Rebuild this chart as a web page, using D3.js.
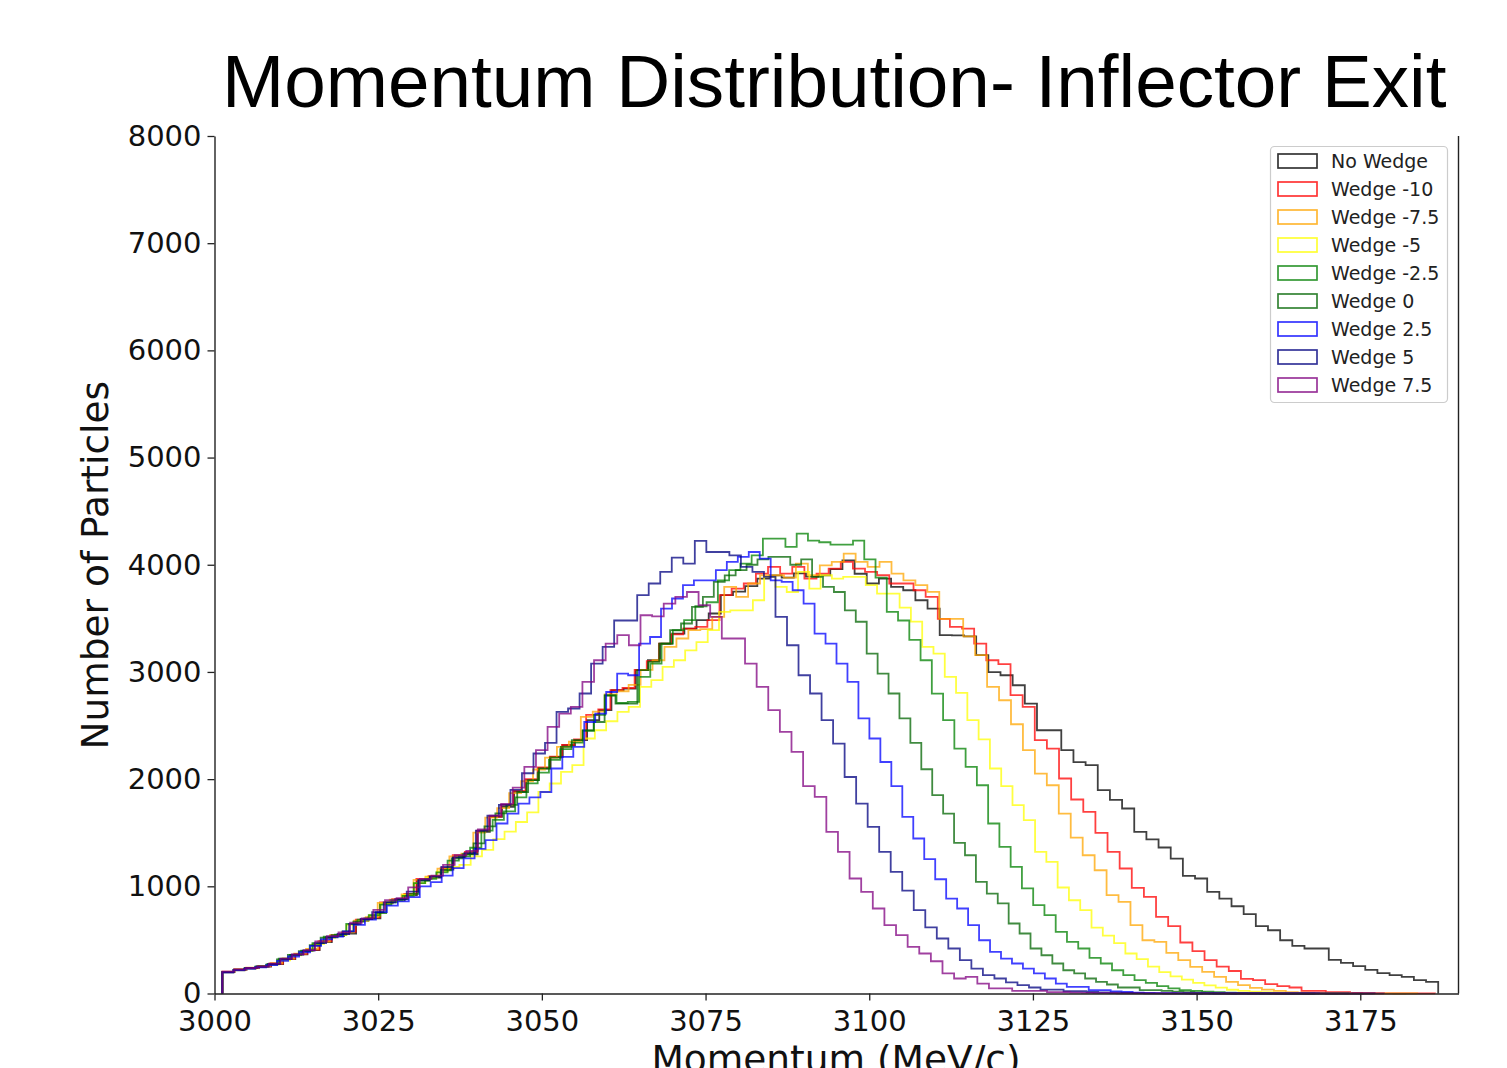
<!DOCTYPE html>
<html><head><meta charset="utf-8">
<script src="https://cdn.jsdelivr.net/npm/d3@7"></script>
<style>body{margin:0;background:#fff;overflow:hidden} svg{display:block}</style>
</head><body><svg id="chart" width="1507" height="1068"></svg>
<script>
// ---------------- data ----------------
const chartTitle = "Momentum Distribution- Inflector Exit";
const xLabel = "Momentum (MeV/c)";
const yLabel = "Number of Particles";
const xTicks = [3000, 3025, 3050, 3075, 3100, 3125, 3150, 3175];
const yTicks = [0, 1000, 2000, 3000, 4000, 5000, 6000, 7000, 8000];
const xDomain = [3000, 3190];
const yDomain = [0, 8000];

const seriesNames = ["No Wedge", "Wedge -10", "Wedge -7.5", "Wedge -5", "Wedge -2.5", "Wedge 0", "Wedge 2.5", "Wedge 5", "Wedge 7.5"];
const binStart = 3001.2; // MeV/c, lower edge of first bin
const binWidths = [1.857, 1.852, 1.825, 1.724, 1.720, 1.668, 1.675, 1.760, 1.774]; // MeV/c per bin

const countsNoWedge = [200,222,238,250,275,320,366,404,480,535,
 560,677,700,840,870,917,1057,1082,1157,1274,
 1299,1507,1647,1741,1881,1990,2099,2207,2316,2363,
 2550,2643,2829,2845,3016,3109,3265,3358,3405,3483,
 3545,3716,3750,3800,3870,3900,3880,3920,3890,3900,
 3960,4041,3916,3825,3871,3793,3762,3669,3591,3343,
 3341,3331,3157,2998,2969,2876,2705,2456,2456,2270,
 2158,2130,1897,1807,1726,1507,1437,1362,1259,1097,
 1073,948,886,814,740,628,590,497,444,420,
 420,314,285,255,221,190,171,155,124,109];

const countsWedgeM10 = [205,225,240,255,280,325,370,410,490,545,
 575,690,710,850,880,930,1070,1095,1170,1290,
 1320,1520,1650,1760,1890,2000,2110,2210,2320,2370,
 2600,2650,2830,2850,3020,3100,3265,3350,3405,3420,
 3483,3716,3778,3825,3918,3980,3918,3980,3871,3918,
 3964,4026,3964,3933,3902,3825,3825,3762,3700,3495,
 3420,3405,3265,3109,3072,2783,2674,2363,2285,2006,
 1810,1694,1498,1321,1166,985,901,715,628,476,
 395,311,250,210,137,124,87,68,56,24,
 24,12,12,5,4,2,2,1,1,1];

const countsWedgeM7p5 = [200,225,242,258,282,325,372,415,485,545,
 570,680,712,845,875,925,1060,1090,1165,1280,
 1305,1500,1640,1730,1870,1980,2090,2200,2300,2350,
 2580,2630,2790,2820,2880,3020,3109,3233,3312,3390,
 3400,3514,3793,3700,3825,3900,3902,3880,4011,3902,
 3995,4026,4104,4026,3980,4026,3918,3855,3809,3747,
 3495,3495,3331,3157,2860,2736,2512,2270,2052,1943,
 1679,1455,1290,1150,917,855,637,497,481,379,
 311,249,202,155,109,78,52,37,24,12,
 9,6,4,3,2,2,1,1,0,1];

const countsWedgeM5 = [195,215,230,248,270,310,355,395,460,520,
 545,640,680,730,840,870,920,1030,1080,1140,
 1180,1200,1280,1340,1440,1510,1600,1690,1880,1959,
 2067,2130,2379,2456,2540,2627,2674,2860,2923,3047,
 3109,3202,3279,3390,3560,3575,3575,3669,3886,3793,
 3746,3933,3778,3902,3871,3886,3886,3809,3731,3731,
 3600,3470,3233,3171,2954,2805,2550,2370,2099,1934,
 1757,1617,1321,1228,989,870,777,615,540,470,
 373,320,250,200,160,130,100,75,55,35,
 25,18,12,8,5,4,2,1,1,1];

const countsWedgeM2p5 = [200,220,238,252,276,325,360,400,470,530,
 550,650,690,730,830,870,910,1030,1070,1130,
 1240,1280,1360,1520,1620,1700,1830,1960,2060,2180,
 2280,2340,2450,2600,2780,2710,2720,2954,3078,3265,
 3389,3483,3613,3650,3855,3949,4011,4088,4244,4244,
 4166,4291,4226,4210,4188,4188,4226,4050,3880,3560,
 3480,3300,3109,2798,2550,2285,2114,1943,1586,1368,
 1182,980,824,731,575,482,420,333,280,217,
 171,124,100,68,47,31,24,18,12,8,
 5,4,3,2,1,1,0,1,0,1];

const countsWedge0 = [200,220,235,250,270,318,360,395,450,520,
 545,580,670,700,750,850,880,930,1050,1090,
 1150,1260,1300,1400,1560,1680,1760,1880,1990,2100,
 2200,2300,2363,2456,2533,2782,2705,2705,3016,3094,
 3265,3390,3452,3607,3700,3840,3900,3950,4000,4050,
 4073,4073,4000,4050,3886,3793,3746,3575,3468,3171,
 2985,2799,2566,2338,2092,1851,1679,1405,1290,1041,
 932,840,653,560,420,357,280,217,187,140,
 109,84,56,56,31,31,25,18,12,8,
 5,3,2,1,1,0,1,0,0,1];

const countsWedgeP2p5 = [195,215,230,245,265,305,345,385,445,505,
 530,580,640,690,760,820,860,900,1000,1040,
 1100,1170,1260,1350,1430,1586,1679,1772,1830,1880,
 2099,2207,2300,2533,2612,2813,2985,2969,3265,3326,
 3591,3685,3809,3855,3855,3949,4026,4073,4119,4057,
 3855,3840,3762,3638,3358,3265,3078,2907,2566,2379,
 2160,1934,1648,1446,1253,1066,886,793,637,497,
 388,326,280,233,187,140,93,62,62,31,
 31,20,14,9,6,4,3,2,1,1,
 0,1,0,0,0,1,0,0,0,1];

const countsWedgeP5 = [200,222,238,250,275,320,362,400,470,525,
 555,650,695,760,850,880,950,1060,1090,1180,
 1270,1310,1520,1660,1760,1900,2055,2239,2338,2627,
 2659,2799,3078,3233,3480,3480,3716,3825,3933,4067,
 4011,4222,4119,4119,4088,3980,3933,3886,3514,3249,
 2969,2799,2550,2332,2020,1772,1554,1321,1134,960,
 777,616,513,420,311,233,171,140,103,78,
 56,37,37,21,21,14,10,7,5,3,
 2,2,1,1,0,1,0,0,1,0,
 0,0,0,1,0,0,0,0,0,1];

const countsWedgeP7p5 = [205,222,238,252,278,325,365,405,485,535,
 570,660,700,780,870,890,990,1070,1100,1200,
 1290,1330,1530,1660,1770,1920,2114,2270,2487,2612,
 2674,2907,3109,3265,3343,3249,3529,3519,3638,3700,
 3746,3622,3514,3312,3312,3078,2860,2643,2441,2254,
 1934,1834,1507,1321,1073,948,793,637,544,435,
 373,301,187,140,155,93,47,47,24,24,
 24,12,12,8,6,4,3,2,2,1,
 1,0,1,0,0,1,0,0,0,1,
 0,0,0,0,1,0,0,0,0,1];

const seriesCounts = [countsNoWedge, countsWedgeM10, countsWedgeM7p5, countsWedgeM5, countsWedgeM2p5,
                      countsWedge0, countsWedgeP2p5, countsWedgeP5, countsWedgeP7p5];

// ---------------- style ----------------
const seriesColors = ["#000000", "#ff0000", "#ffa500", "#ffff00", "#008000", "#006400", "#0000ff", "#000080", "#800080"];
const tickFont = "'DejaVu Sans', sans-serif";

// ---------------- drawing ----------------
const svg = d3.select("#chart");
svg.append("rect").attr("width", 1507).attr("height", 1068).attr("fill", "#fff");

const x = d3.scaleLinear().domain(xDomain).range([214.5, 1458.5]);
const y = d3.scaleLinear().domain(yDomain).range([993.5, 136]);

// histogram step outlines
const line = d3.line().x(d => x(d[0])).y(d => y(d[1]));
const plot = svg.append("g");
seriesCounts.forEach((counts, si) => {
  const w = binWidths[si];
  const pts = [[binStart, 0]];
  counts.forEach((c, i) => {
    pts.push([binStart + i * w, c]);
    pts.push([binStart + (i + 1) * w, c]);
  });
  pts.push([binStart + counts.length * w, 0]);
  plot.append("path")
    .attr("d", line(pts))
    .attr("fill", "none")
    .attr("stroke", seriesColors[si])
    .attr("stroke-opacity", 0.75)
    .attr("stroke-width", 1.8)
    .attr("stroke-linejoin", "miter");
});

// axes
const axisColor = "#222";
const xAxis = svg.append("g").attr("transform", `translate(0,${y(0)})`)
  .call(d3.axisBottom(x).tickValues(xTicks).tickFormat(d3.format("d")).tickSize(7).tickSizeOuter(0).tickPadding(10));
const yAxis = svg.append("g").attr("transform", `translate(${x(3000)},0)`)
  .call(d3.axisLeft(y).tickValues(yTicks).tickFormat(d3.format("d")).tickSize(7).tickSizeOuter(0).tickPadding(6));
[xAxis, yAxis].forEach(a => {
  a.selectAll("path.domain").attr("stroke", axisColor).attr("stroke-width", 1.4);
  a.selectAll(".tick line").attr("stroke", axisColor).attr("stroke-width", 1.3);
  a.selectAll(".tick text").attr("fill", "#111").style("font-family", tickFont).style("font-size", "29px");
});
// right spine
svg.append("line")
  .attr("x1", x(xDomain[1])).attr("x2", x(xDomain[1]))
  .attr("y1", y(yDomain[1])).attr("y2", y(0))
  .attr("stroke", axisColor).attr("stroke-width", 1.4);

// axis labels
svg.append("text").text(yLabel)
  .attr("transform", `translate(108,${(y(0) + y(yDomain[1])) / 2 + 0.5}) rotate(-90)`)
  .attr("text-anchor", "middle")
  .style("font-family", tickFont).style("font-size", "37.5px").attr("fill", "#111");
svg.append("text").text(xLabel)
  .attr("x", 836).attr("y", 1072)
  .attr("text-anchor", "middle")
  .style("font-family", tickFont).style("font-size", "37.5px").attr("fill", "#111");

// title
svg.append("text").text(chartTitle)
  .attr("x", 222).attr("y", 107)
  .style("font-family", "'Liberation Sans', Arial, sans-serif").style("font-size", "74.7px").attr("fill", "#000");

// legend
const lg = svg.append("g");
lg.append("rect").attr("x", 1270.5).attr("y", 146.5).attr("width", 177).attr("height", 256).attr("rx", 4)
  .attr("fill", "#fff").attr("fill-opacity", 0.85).attr("stroke", "#cccccc").attr("stroke-width", 1.2);
seriesNames.forEach((name, i) => {
  const cy = 161 + 28 * i;
  lg.append("rect").attr("x", 1278).attr("y", cy - 7).attr("width", 39).attr("height", 14)
    .attr("fill", "none").attr("stroke", seriesColors[i]).attr("stroke-opacity", 0.8).attr("stroke-width", 1.7);
  lg.append("text").text(name).attr("x", 1331).attr("y", cy).attr("dy", "0.36em")
    .style("font-family", tickFont).style("font-size", "19px").attr("fill", "#222");
});
</script>
</body></html>
